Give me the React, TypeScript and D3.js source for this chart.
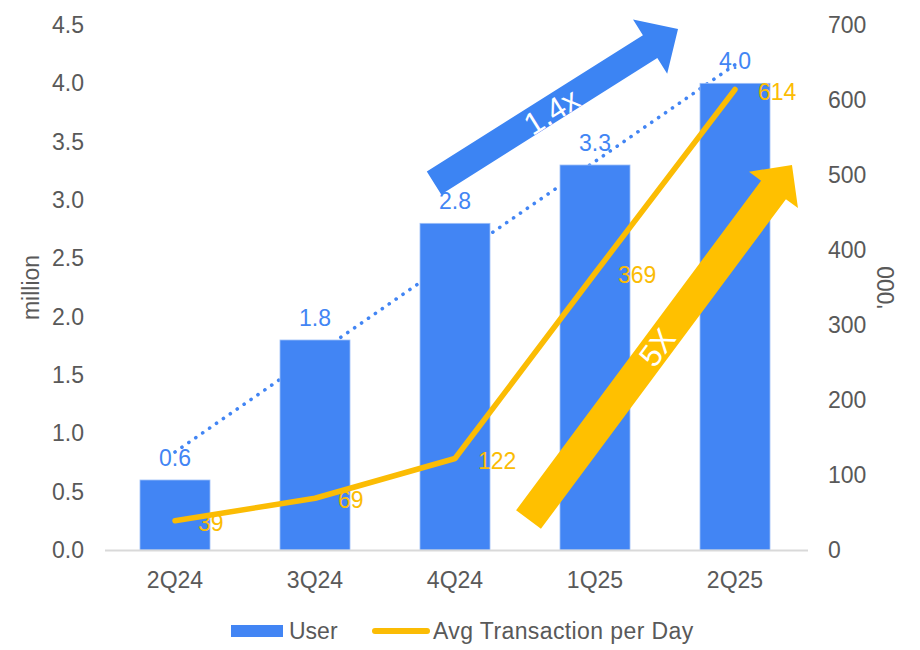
import React from "react";
import * as d3 from "d3";

const categories = ["2Q24", "3Q24", "4Q24", "1Q25", "2Q25"];
const users = [0.6, 1.8, 2.8, 3.3, 4.0];
const userLabels = ["0.6", "1.8", "2.8", "3.3", "4.0"];
const avgTx = [39, 69, 122, 369, 614];
const leftTicks = [0, 0.5, 1, 1.5, 2, 2.5, 3, 3.5, 4, 4.5];
const rightTicks = [0, 100, 200, 300, 400, 500, 600, 700];
const legendItems = ["User", "Avg Transaction per Day"];
// annotation arrows: [tail category index, tail value(left axis), tip index, tip value, label]
const blueArrow = { t: [1.85, 3.146], p: [3.593, 4.466], label: "1.4x" };
const goldArrow = { t: [2.525, 0.261], p: [4.407, 3.3], label: "5X" };

const W = 920;
const H = 650;
const BLUE = "#4285F4";
const GOLD = "#FBBC04";
const GREY = "#595959";
const FONT = "'Liberation Sans', Arial, sans-serif";

function arrowPath(T: number[], P: number[], w: number, hw: number, hl: number) {
  const dx = P[0] - T[0], dy = P[1] - T[1];
  const len = Math.hypot(dx, dy);
  const ux = dx / len, uy = dy / len;
  const nx = -uy, ny = ux;
  const bx = P[0] - ux * hl, by = P[1] - uy * hl;
  const pts = [
    [T[0] + nx * w / 2, T[1] + ny * w / 2],
    [bx + nx * w / 2, by + ny * w / 2],
    [bx + nx * hw / 2, by + ny * hw / 2],
    [P[0], P[1]],
    [bx - nx * hw / 2, by - ny * hw / 2],
    [bx - nx * w / 2, by - ny * w / 2],
    [T[0] - nx * w / 2, T[1] - ny * w / 2],
  ];
  return "M" + pts.map((p) => p.join(",")).join("L") + "Z";
}

export default function App() {
  const x = d3.scaleBand<string>().domain(categories).range([105, 805]).paddingInner(0.5).paddingOuter(0.25);
  const bw = x.bandwidth();
  const cx = (c: string) => (x(c) as number) + bw / 2;
  const xi = d3.scaleLinear().domain([0, categories.length - 1]).range([cx(categories[0]), cx(categories[categories.length - 1])]);
  const yL = d3.scaleLinear().domain([0, 4.5]).range([550, 25]);
  const yR = d3.scaleLinear().domain([0, 700]).range([550, 25]);

  // linear trendline of users
  const n = users.length;
  const mx = d3.mean(users.map((_, i) => i)) as number;
  const my = d3.mean(users) as number;
  const slope = d3.sum(users.map((v, i) => (i - mx) * (v - my))) / d3.sum(users.map((_, i) => (i - mx) ** 2));
  const icpt = my - slope * mx;
  const trend = d3.line<number>().x((i) => xi(i)).y((i) => yL(icpt + slope * i));

  const line = d3.line<number>().x((_, i) => cx(categories[i])).y((v) => yR(v));

  const arrowPts = (a: typeof blueArrow) => ({
    T: [xi(a.t[0]), yL(a.t[1])],
    P: [xi(a.p[0]), yL(a.p[1])],
  });
  const ba = arrowPts(blueArrow);
  const ga = arrowPts(goldArrow);
  const ang = (A: { T: number[]; P: number[] }) => (Math.atan2(A.P[1] - A.T[1], A.P[0] - A.T[0]) * 180) / Math.PI;

  return (
    <svg width={W} height={H} style={{ position: "absolute", left: 0, top: 0, background: "#fff" }} fontFamily={FONT}>
      {/* left ticks */}
      {leftTicks.map((t) => (
        <text key={"l" + t} x={84} y={yL(t)} dy="0.35em" textAnchor="end" fontSize={23} fill={GREY}>
          {t.toFixed(1)}
        </text>
      ))}
      {rightTicks.map((t) => (
        <text key={"r" + t} x={828} y={yR(t)} dy="0.35em" textAnchor="start" fontSize={23} fill={GREY}>
          {t}
        </text>
      ))}
      <text transform={`translate(31,${(550 + 25) / 2}) rotate(-90)`} textAnchor="middle" dy="0.35em" fontSize={23} fill={GREY}>
        million
      </text>
      <text transform={`translate(886,${(550 + 25) / 2}) rotate(-90)`} textAnchor="middle" dy="0.35em" fontSize={23} fill={GREY}>
        '000
      </text>

      {/* trendline (behind bars) */}
      <path d={trend(d3.range(n)) as string} fill="none" stroke={BLUE} strokeWidth={3.6} strokeDasharray="0.1 8.3" strokeLinecap="round" />

      {/* bars */}
      {users.map((v, i) => (
        <rect key={"b" + i} x={x(categories[i])} y={yL(v)} width={bw} height={yL(0) - yL(v)} fill={BLUE} stroke="#9dbff8" strokeWidth={0.8} />
      ))}

      {/* baseline */}
      <line x1={105} x2={808} y1={550.5} y2={550.5} stroke="#d9d9d9" strokeWidth={2} />

      {/* category labels */}
      {categories.map((c) => (
        <text key={c} x={cx(c)} y={580} dy="0.35em" textAnchor="middle" fontSize={23} fill={GREY}>
          {c}
        </text>
      ))}

      {/* bar labels */}
      {users.map((v, i) => (
        <text key={"bl" + i} x={cx(categories[i])} y={yL(v) - 22} dy="0.35em" textAnchor="middle" fontSize={23} fill={BLUE}>
          {userLabels[i]}
        </text>
      ))}

      {/* line labels, then line on top */}
      {avgTx.map((v, i) => (
        <text key={"ll" + i} x={cx(categories[i]) + 23} y={yR(v) + 2} dy="0.35em" textAnchor="start" fontSize={23} fill={GOLD}>
          {v}
        </text>
      ))}
      <path d={line(avgTx) as string} fill="none" stroke={GOLD} strokeWidth={5.5} strokeLinecap="round" strokeLinejoin="round" />

      {/* arrows */}
      <path d={arrowPath(ba.T, ba.P, 27, 64, 33)} fill="#3C84F3" />
      <text
        transform={`translate(${xi(2.69)},${yL(3.76)}) rotate(${ang(ba)})`}
        textAnchor="middle"
        dy="0.35em"
        fontSize={31}
        fill="#fff"
      >
        {blueArrow.label}
      </text>
      <path d={arrowPath(ga.T, ga.P, 31, 61, 31)} fill="#FFC000" />
      <text
        transform={`translate(${xi(3.443)},${yL(1.737)}) rotate(${ang(ga)})`}
        textAnchor="middle"
        dy="0.35em"
        fontSize={31}
        fill="#fff"
      >
        {goldArrow.label}
      </text>

      {/* legend */}
      <rect x={231} y={625} width={52} height={12} fill={BLUE} />
      <text x={289} y={631} dy="0.35em" fontSize={23} fill={GREY}>
        {legendItems[0]}
      </text>
      <line x1={375} x2={427} y1={631} y2={631} stroke={GOLD} strokeWidth={6} strokeLinecap="round" />
      <text x={433} y={631} dy="0.35em" fontSize={23} letterSpacing={0.4} fill={GREY}>
        {legendItems[1]}
      </text>
    </svg>
  );
}
